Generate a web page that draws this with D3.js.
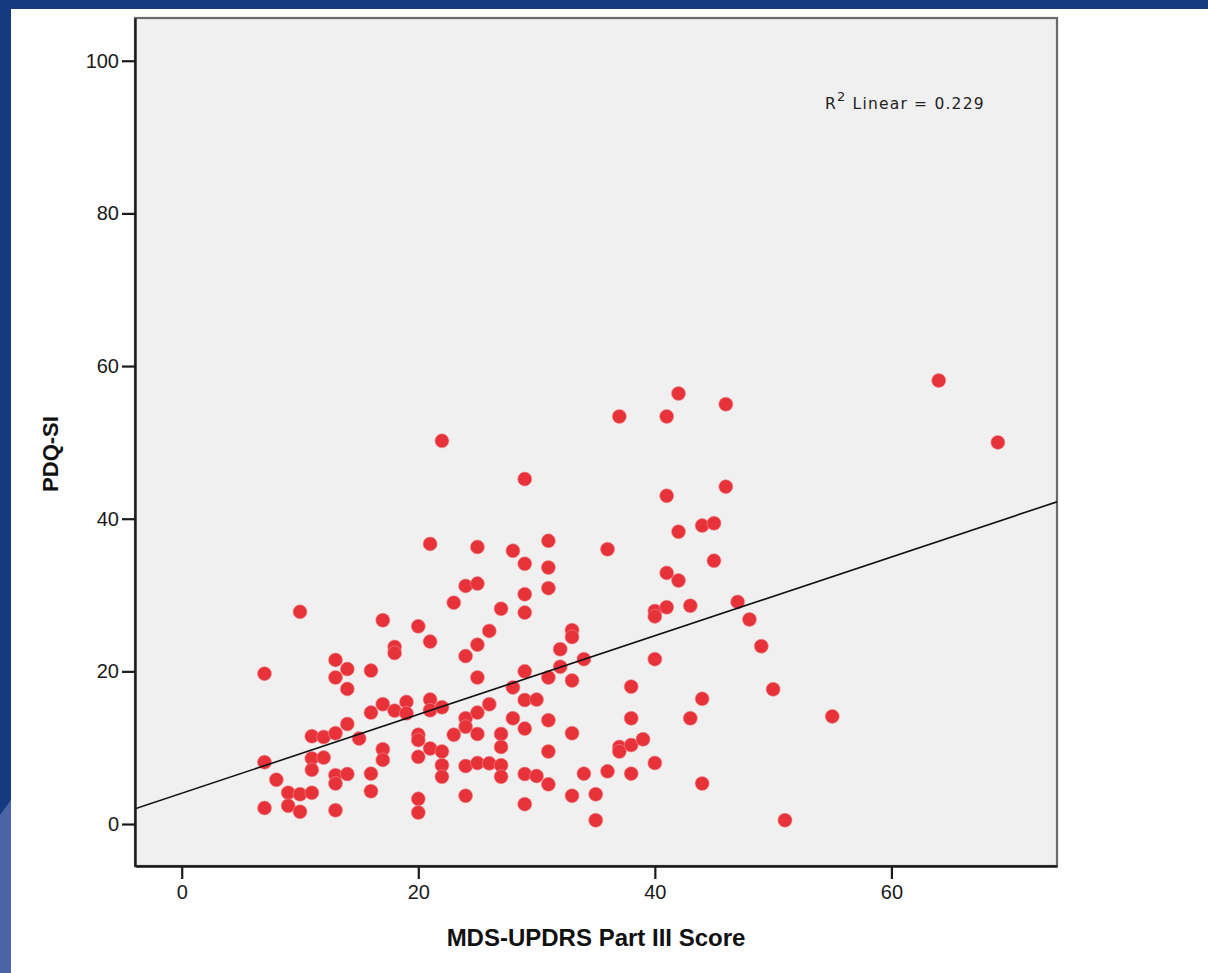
<!DOCTYPE html>
<html>
<head>
<meta charset="utf-8">
<script src="https://cdn.jsdelivr.net/npm/d3@7"></script>
<style>
  html, body { margin: 0; padding: 0; background: #ffffff; }
  svg { display: block; }
</style>
</head>
<body>
<svg id="chart" width="1208" height="973"></svg>
<script>
// ---- data ----
const mdsUpdrs = [
  7, 7, 7,
  8,
  9, 9,
  10, 10, 10,
  11, 11, 11, 11,
  12, 12,
  13, 13, 13, 13, 13, 13,
  14, 14, 14, 14,
  15,
  16, 16, 16, 16,
  17, 17, 17, 17,
  18, 18, 18,
  19, 19,
  20, 20, 20, 20, 20, 20,
  21, 21, 21, 21, 21,
  22, 22, 22, 22, 22,
  23, 23,
  24, 24, 24, 24, 24, 24,
  25, 25, 25, 25, 25, 25, 25,
  26, 26, 26,
  27, 27, 27, 27, 27,
  28, 28, 28,
  29, 29, 29, 29, 29, 29, 29, 29, 29,
  30, 30,
  31, 31, 31, 31, 31, 31, 31,
  32, 32,
  33, 33, 33, 33, 33,
  34, 34,
  35, 35,
  36, 36,
  37, 37, 37,
  38, 38, 38, 38,
  39,
  40, 40, 40, 40,
  41, 41, 41, 41,
  42, 42, 42,
  43, 43,
  44, 44, 44,
  45, 45,
  46, 46,
  47, 48, 49, 50, 51, 55, 64, 69
];
const pdqSi = [
  19.7, 8.1, 2.1,
  5.8,
  4.1, 2.4,
  27.8, 3.9, 1.6,
  11.5, 8.6, 7.1, 4.1,
  11.4, 8.7,
  21.5, 19.2, 11.9, 6.4, 5.3, 1.8,
  20.3, 17.7, 13.1, 6.55,
  11.2,
  20.1, 14.6, 6.6, 4.3,
  26.7, 15.7, 9.8, 8.4,
  23.2, 22.4, 14.85,
  16.0, 14.5,
  25.9, 11.7, 11.0, 8.8, 3.3, 1.5,
  36.7, 23.9, 16.3, 14.9, 9.9,
  50.2, 15.3, 9.5, 7.7, 6.2,
  29.0, 11.7,
  31.2, 22.0, 13.85, 12.75, 7.6, 3.7,
  36.3, 31.5, 23.5, 19.2, 14.6, 11.8, 8.0,
  25.3, 15.7, 7.95,
  28.2, 11.8, 10.1, 7.7, 6.2,
  35.8, 17.9, 13.85,
  45.2, 34.1, 30.1, 27.7, 20.0, 16.25, 12.5, 6.55, 2.6,
  16.3, 6.3,
  37.1, 33.6, 30.9, 19.2, 13.6, 9.5, 5.2,
  22.9, 20.6,
  25.4, 24.5, 18.8, 11.9, 3.7,
  21.6, 6.6,
  3.9, 0.5,
  36.0, 6.9,
  53.4, 10.1, 9.5,
  18.0, 13.85, 10.35, 6.6,
  11.1,
  27.9, 27.2, 21.6, 8.0,
  53.4, 43.0, 32.9, 28.4,
  56.4, 38.3, 31.9,
  28.6, 13.85,
  39.1, 16.4, 5.3,
  39.4, 34.5,
  55.0, 44.2,
  29.1, 26.8, 23.3, 17.65, 0.5, 14.1, 58.1, 50.0
];
const xTicks = [0, 20, 40, 60];
const yTicks = [0, 20, 40, 60, 80, 100];
const xDomain = [-3.95, 74];
const yDomain = [-5.5, 105.6];
const fitLine = [4.03, 0.516];      // intercept, slope
const rSquared = "0.229";
const xTitle = "MDS-UPDRS Part III Score";
const yTitle = "PDQ-SI";

// ---- layout ----
const svg = d3.select("#chart");
const W = 1208, H = 973;
const plot = { left: 135, right: 1057, top: 18, bottom: 866 };

// slide frame
svg.append("rect").attr("x", 0).attr("y", 0).attr("width", W).attr("height", H).attr("fill", "#ffffff");
svg.append("rect").attr("x", 0).attr("y", 0).attr("width", W).attr("height", 9).attr("fill", "#163a80");
svg.append("rect").attr("x", 0).attr("y", 0).attr("width", 11).attr("height", H).attr("fill", "#163a80");
svg.append("polygon").attr("points", "0,815 11,800 11,973 0,973").attr("fill", "#4a64a6");

const x = d3.scaleLinear().domain(xDomain).range([plot.left, plot.right]);
const y = d3.scaleLinear().domain(yDomain).range([plot.bottom, plot.top]);

// plot background
svg.append("rect")
  .attr("x", plot.left).attr("y", plot.top)
  .attr("width", plot.right - plot.left).attr("height", plot.bottom - plot.top)
  .attr("fill", "#f0f0f0")
  .attr("stroke", "#6a6a6a").attr("stroke-width", 2.2);

svg.append("clipPath").attr("id", "clip")
  .append("rect")
  .attr("x", plot.left).attr("y", plot.top)
  .attr("width", plot.right - plot.left).attr("height", plot.bottom - plot.top);

// points
const pts = mdsUpdrs.map((v, i) => ({ x: v, y: pdqSi[i] }));
svg.append("g").attr("clip-path", "url(#clip)")
  .selectAll("circle").data(pts).join("circle")
  .attr("cx", d => x(d.x)).attr("cy", d => y(d.y))
  .attr("r", 7)
  .attr("fill", "#e8323a")
  .attr("stroke", "#f08a8e").attr("stroke-width", 0.6);

// fit line
svg.append("g").attr("clip-path", "url(#clip)")
  .append("line")
  .attr("x1", x(xDomain[0])).attr("y1", y(fitLine[0] + fitLine[1] * xDomain[0]))
  .attr("x2", x(xDomain[1])).attr("y2", y(fitLine[0] + fitLine[1] * xDomain[1]))
  .attr("stroke", "#111").attr("stroke-width", 1.6);

// axes
const tickFont = "'Liberation Sans', Arial, sans-serif";
const xAxis = svg.append("g")
  .attr("transform", `translate(0,${plot.bottom})`)
  .call(d3.axisBottom(x).tickValues(xTicks).tickSizeInner(13).tickSizeOuter(0).tickPadding(6).tickFormat(d3.format("d")));
const yAxis = svg.append("g")
  .attr("transform", `translate(${plot.left},0)`)
  .call(d3.axisLeft(y).tickValues(yTicks).tickSizeInner(13).tickSizeOuter(0).tickPadding(3).tickFormat(d3.format("d")));
[xAxis, yAxis].forEach(g => {
  g.select(".domain").attr("stroke", "#1a1a1a").attr("stroke-width", 2.4);
  g.selectAll(".tick line").attr("stroke", "#1a1a1a").attr("stroke-width", 2.2);
  g.selectAll(".tick text").attr("fill", "#1a1a1a")
    .style("font-family", tickFont).style("font-size", "20px");
});

// axis titles
svg.append("text")
  .attr("x", (plot.left + plot.right) / 2).attr("y", 946)
  .attr("text-anchor", "middle")
  .style("font-family", "'Liberation Sans', Arial, sans-serif")
  .style("font-weight", "bold").style("font-size", "24px").attr("fill", "#111")
  .text(xTitle);
svg.append("text")
  .attr("transform", "translate(58,454) rotate(-90)")
  .attr("text-anchor", "middle")
  .style("font-family", "'Liberation Sans', Arial, sans-serif")
  .style("font-weight", "bold").style("font-size", "22px").attr("fill", "#111")
  .text(yTitle);

// R² annotation
const ann = svg.append("text")
  .attr("x", 825).attr("y", 109)
  .style("font-family", "'DejaVu Sans', sans-serif")
  .style("letter-spacing", "1.2px")
  .style("font-size", "15.5px").attr("fill", "#222");
ann.append("tspan").text("R");
ann.append("tspan").attr("dy", -8).style("font-size", "13px").text("2");
ann.append("tspan").attr("dy", 8).text(" Linear = " + rSquared);
</script>
</body>
</html>
